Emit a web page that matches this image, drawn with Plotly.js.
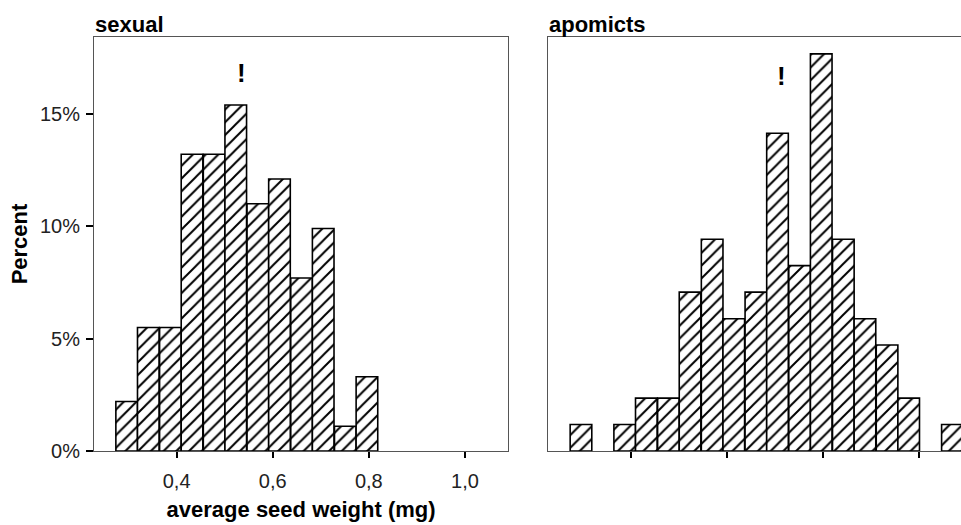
<!DOCTYPE html>
<html>
<head>
<meta charset="utf-8">
<script src="https://cdn.plot.ly/plotly-3.0.1.min.js"></script>
<style>html,body{margin:0;padding:0;background:#fff;}#chart{width:961px;height:525px;}</style>
</head>
<body>
<div id="chart"></div>
<script>
// Bin centres (mg) of the histogram classes
const sexualBins = [0.296, 0.341, 0.387, 0.432, 0.478, 0.523, 0.569, 0.614, 0.660, 0.705, 0.751, 0.796];
const sexualPercent = [2.20, 5.49, 5.49, 13.19, 13.19, 15.38, 10.99, 12.09, 7.69, 9.89, 1.10, 3.30];

const apomictBins = [0.296, 0.387, 0.432, 0.478, 0.523, 0.569, 0.614, 0.660, 0.705, 0.751, 0.796, 0.842, 0.887, 0.933, 0.978, 1.069];
const apomictPercent = [1.18, 1.18, 2.35, 2.35, 7.06, 9.41, 5.88, 7.06, 14.12, 8.24, 17.65, 9.41, 5.88, 4.71, 2.35, 1.18];

const xTickVals = [0.4, 0.6, 0.8, 1.0];
const xTickText = ['0,4', '0,6', '0,8', '1,0'];
const yTickVals = [0, 5, 10, 15];
const yTickText = ['0%', '5%', '10%', '15%'];

// Medians marked with "!"
const sexualMarker = {x: 0.534, y: 16.8};
const apomictMarker = {x: 0.714, y: 16.65};

const panelTitles = ['sexual', 'apomicts'];

const FONT = 'Liberation Sans, Arial, sans-serif';
const barStyle = {
  color: 'white',
  line: {color: 'black', width: 1.6},
  pattern: {shape: '/', fgcolor: 'black', bgcolor: 'white', size: 9, solidity: 0.22}
};

const traces = [
  {type: 'bar', x: sexualBins, y: sexualPercent, xaxis: 'x', yaxis: 'y', marker: barStyle, hoverinfo: 'skip'},
  {type: 'bar', x: apomictBins, y: apomictPercent, xaxis: 'x2', yaxis: 'y2', marker: barStyle, hoverinfo: 'skip'}
];

const plotW = 961 - 94;
const xRange = [0.228, 1.090];
const pxPerUnit = 414.2 / (xRange[1] - xRange[0]);
const rightStart = (548.3 - 94) / plotW;
const rightRange = [0.228, 0.228 + (961 - 548.3) / pxPerUnit];

const commonX = {
  showgrid: false, zeroline: false,
  ticks: 'outside', ticklen: 6, tickwidth: 2, tickcolor: 'black',
  showline: true, linecolor: '#555', linewidth: 1, mirror: true,
  tickmode: 'array', tickvals: xTickVals, ticktext: xTickText,
  ticklabelstandoff: 6,
  tickfont: {family: FONT, size: 20, color: '#222'}
};
const commonY = {
  showgrid: false, zeroline: false, range: [0, 18.4],
  showline: true, linecolor: '#555', linewidth: 1
};

const layout = {
  width: 961, height: 525,
  margin: {l: 94, r: 0, t: 37, b: 74},
  paper_bgcolor: 'white', plot_bgcolor: 'white',
  showlegend: false,
  bargap: 0,
  font: {family: FONT, color: 'black'},
  xaxis: Object.assign({}, commonX, {
    domain: [0, 414.2 / plotW], range: xRange, anchor: 'y',
    title: {text: '<b>average seed weight (mg)</b>', font: {family: FONT, size: 22, color: 'black'}, standoff: 10}
  }),
  yaxis: Object.assign({}, commonY, {
    domain: [0, 1], anchor: 'x', mirror: true,
    tickmode: 'array', tickvals: yTickVals, ticktext: yTickText,
    ticks: 'outside', ticklen: 7, tickwidth: 2, tickcolor: 'black',
    ticklabelstandoff: 2,
    tickfont: {family: FONT, size: 20, color: '#222'},
    title: {text: '<b>Percent</b>', font: {family: FONT, size: 22, color: 'black'}, standoff: 6}
  }),
  xaxis2: Object.assign({}, commonX, {
    domain: [rightStart, 1], range: rightRange, anchor: 'y2',
    showticklabels: false
  }),
  yaxis2: Object.assign({}, commonY, {
    domain: [0, 1], anchor: 'x2', mirror: false,
    showticklabels: false, ticks: ''
  }),
  annotations: [
    {text: '<b>' + panelTitles[0] + '</b>', xref: 'x domain', yref: 'paper', x: -0.003, y: 1, xanchor: 'left', yanchor: 'bottom', showarrow: false, font: {family: FONT, size: 22, color: 'black'}, yshift: -2},
    {text: '<b>' + panelTitles[1] + '</b>', xref: 'x2 domain', yref: 'paper', x: -0.003, y: 1, xanchor: 'left', yanchor: 'bottom', showarrow: false, font: {family: FONT, size: 22, color: 'black'}, yshift: -2},
    {text: '<b>!</b>', xref: 'x', yref: 'y', x: sexualMarker.x, y: sexualMarker.y, showarrow: false, font: {family: FONT, size: 26, color: 'black'}},
    {text: '<b>!</b>', xref: 'x2', yref: 'y2', x: apomictMarker.x, y: apomictMarker.y, showarrow: false, font: {family: FONT, size: 26, color: 'black'}}
  ]
};

Plotly.newPlot('chart', traces, layout, {staticPlot: true, displayModeBar: false});
</script>
</body>
</html>
